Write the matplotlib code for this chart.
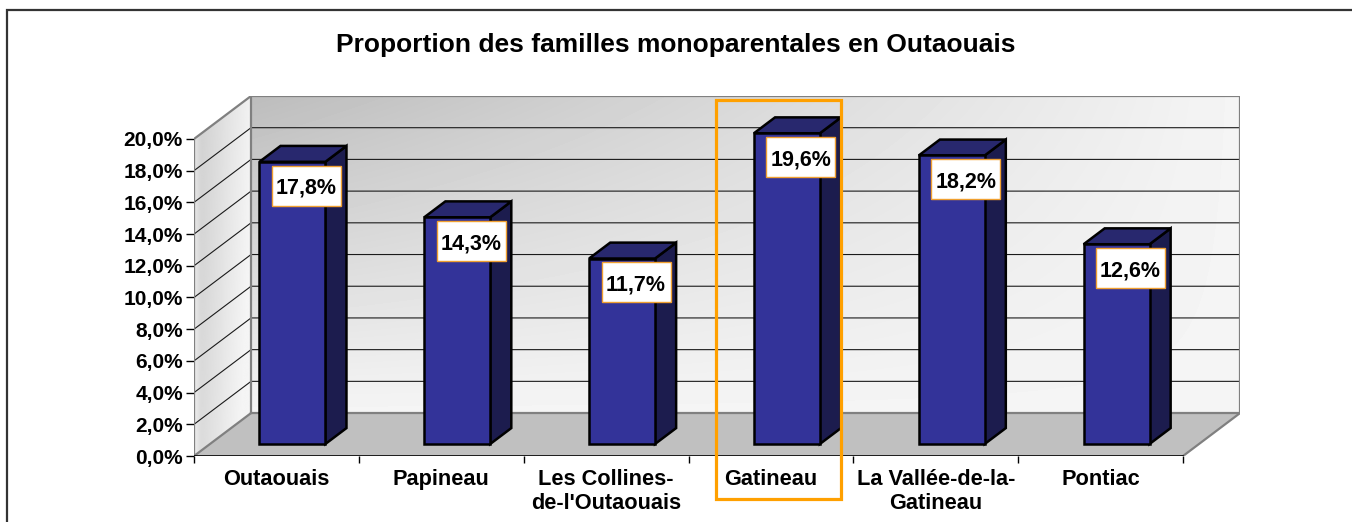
import numpy as np
import matplotlib
matplotlib.use("Agg")
import matplotlib.pyplot as plt
from matplotlib.patches import Polygon, Rectangle
from matplotlib.transforms import ScaledTranslation

# data
regions = ["Outaouais", "Papineau", "Les Collines-\nde-l'Outaouais", "Gatineau",
           "La Vallée-de-la-\nGatineau", "Pontiac"]
values = [17.8, 14.3, 11.7, 19.6, 18.2, 12.6]
yticks = [0, 2, 4, 6, 8, 10, 12, 14, 16, 18, 20]
highlight = "Gatineau"
title = "Proportion des familles monoparentales en Outaouais"

plt.rcParams['font.family'] = ['Liberation Sans', 'DejaVu Sans']
plt.rcParams['font.weight'] = 'bold'

fig = plt.figure(figsize=(13.52, 5.22), dpi=100)
ax = fig.add_axes([0.1435, 0.1264, 0.7737, 0.6897])

n = len(values)
x0, x1 = -0.5, n - 0.5
ymax = yticks[-1]
DX, DY = 0.346, 2.71          # depth of the 3d box, in data units
fx, fy = 0.28 * DX, 0.28 * DY  # where the bar front sits
bdx, bdy = 0.37 * DX, 0.37 * DY  # bar depth
hw = 0.2                      # half bar width


def shaded(pts, extent, img, z):
    poly = Polygon(pts, closed=True, fc='none', ec='none')
    ax.add_patch(poly)
    im = ax.imshow(img, extent=extent, origin='lower', cmap='gray', vmin=0, vmax=1,
                   interpolation='bilinear', aspect='auto', zorder=z)
    im.set_clip_path(poly)


# back wall, darker at the top left
u, w = np.meshgrid(np.linspace(0, 1, 200), np.linspace(0, 1, 100))
back = 0.96 - 0.22 * (w * (1 - u))
shaded([(x0 + DX, DY), (x1 + DX, DY), (x1 + DX, ymax + DY), (x0 + DX, ymax + DY)],
       [x0 + DX, x1 + DX, DY, ymax + DY], back, 1)

# side wall
u, w = np.meshgrid(np.linspace(0, 1, 60), np.linspace(0, 1, 100))
side = 0.80 + 0.15 * u + 0.04 * (1 - w) + 0.08 * np.exp(-((u - 0.0) / 0.08) ** 2)
side = np.clip(side, 0, 0.96)
shaded([(x0, 0), (x0, ymax), (x0 + DX, ymax + DY), (x0 + DX, DY)],
       [x0, x0 + DX, 0, ymax + DY], side, 1)

# floor
ax.add_patch(Polygon([(x0, 0), (x1, 0), (x1 + DX, DY), (x0 + DX, DY)],
                     fc='#c0c0c0', ec='none', zorder=2))

# gridlines on back and side walls
for v in yticks[1:-1]:
    ax.plot([x0, x0 + DX, x1 + DX], [v, v + DY, v + DY], color='#1a1a1a', lw=0.8, zorder=3)

# wall edges
edge = dict(color='#808080', lw=1.6, zorder=4, solid_joinstyle='miter')
ax.plot([x0 + DX, x0 + DX, x1 + DX, x1 + DX, x0 + DX],
        [DY, ymax + DY, ymax + DY, DY, DY], **edge)
ax.plot([x0 + DX, x0, x0, x0 + DX], [DY, 0, ymax, ymax + DY], **edge)
ax.plot([x1, x1 + DX], [0, DY], **edge)
ax.plot([x0, x1], [0, 0], color='black', lw=1.2, zorder=4)

# bars
for i, v in enumerate(values):
    xl, xr = i - hw + fx, i + hw + fx
    yb, yt = fy, v + fy
    kw = dict(ec='black', lw=1.8, joinstyle='miter', zorder=5)
    ax.add_patch(Polygon([(xr, yb), (xr + bdx, yb + bdy), (xr + bdx, yt + bdy), (xr, yt)],
                         fc='#1c1c4e', **kw))
    ax.add_patch(Polygon([(xl, yt), (xr, yt), (xr + bdx, yt + bdy), (xl + bdx, yt + bdy)],
                         fc='#28286e', **kw))
    ax.add_patch(Polygon([(xl, yb), (xr, yb), (xr, yt), (xl, yt)], fc='#333399', **kw))

    # value label in a white box
    cx, cy = i + fx + 0.085, v + fy - 1.5
    box = Rectangle((-0.345, -0.20), 0.69, 0.40, fc='white', ec='#f0a030', lw=1.0,
                    transform=fig.dpi_scale_trans + ScaledTranslation(cx, cy, ax.transData),
                    zorder=6)
    ax.add_patch(box)
    ax.text(cx, cy, f"{v:.1f}%".replace('.', ','), ha='center', va='center_baseline',
            fontsize=15.5, fontweight='bold', zorder=7)

# axes
ax.set_xlim(x0, x1 + DX)
ax.set_ylim(0, ymax + DY)
for s in ax.spines.values():
    s.set_visible(False)
ax.patch.set_visible(False)

ax.set_yticks(yticks, [f"{t:.1f}%".replace('.', ',') for t in yticks])
ax.tick_params(axis='y', length=5.8, width=1, pad=2.2, labelsize=15, direction='out')
ax.set_xticks(np.arange(x0, x1 + 0.01, 1), [])
ax.tick_params(axis='x', which='major', length=5, width=1, direction='out')
ax.set_xticks(range(n), regions, minor=True)
ax.tick_params(axis='x', which='minor', length=0, pad=9.5, labelsize=15.7)
for lab in ax.get_xticklabels(minor=True):
    lab.set_linespacing(1.2)
    lab.set_multialignment('center')

# highlight box around one region
k = regions.index(highlight)
ax.add_patch(Rectangle((k - 0.333, -2.71), 0.758, 25.17, fc='none', ec='#ffa000',
                       lw=2.3, clip_on=False, zorder=8))

fig.text(0.5, 1 - 52 / 522, title, ha='center', va='baseline', fontsize=19,
         fontweight='bold')

# outer chart frame (left and top edges visible)
fig.add_artist(Rectangle((7 / 1352, -0.1), 1.2, 1.1 - 10 / 522, transform=fig.transFigure,
                         fc='none', ec='#333333', lw=1.6))

fig.savefig("out.png", dpi=100)
